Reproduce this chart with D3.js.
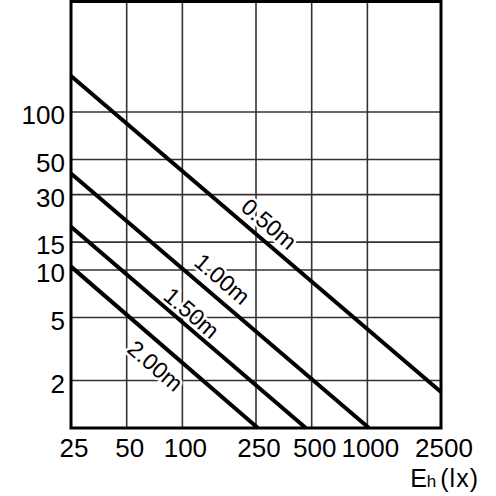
<!DOCTYPE html>
<html>
<head>
<meta charset="utf-8">
<script src="https://cdn.jsdelivr.net/npm/d3@7"></script>
<style>
  html, body { margin: 0; padding: 0; background: #fff; }
  svg { display: block; font-family: "Liberation Sans", Arial, sans-serif; }
</style>
</head>
<body>
<svg id="vis" width="496" height="496"></svg>
<script>
// tick values
var xTicks = [25, 50, 100, 250, 500, 1000, 2500];
var yTicks = [2, 5, 10, 15, 30, 50, 100];

// mounting heights (curve names)
var heights = ['0.50m', '1.00m', '1.50m', '2.00m'];

// end points of each line [Eh, value]
var line050 = [[25, 169], [2500, 1.69]];
var line100 = [[25, 40.8], [1020, 1]];
var line150 = [[25, 18.8], [465, 1]];
var line200 = [[25, 10.5], [256, 1]];

var lines = [line050, line100, line150, line200];

// where each label sits along its line (Eh value) and how far off it (px)
var labelAt = [258, 142, 101, 84];
var labelOff = [16, 18, 13, -20];

var width = 496, height = 496;
var svg = d3.select('#vis');

var x = d3.scaleLog().domain([25, 2500]).range([71, 441]);
var y = d3.scaleLog().domain([1, 500]).range([428, 1.5]);

//grid
var grid = svg.append('g').attr('class', 'grid');

grid.selectAll('.vline')
    .data(xTicks.slice(1, -1))
    .enter()
    .append('line')
    .attr('x1', function(d){ return x(d); })
    .attr('x2', function(d){ return x(d); })
    .attr('y1', y.range()[1])
    .attr('y2', y.range()[0])
    .attr('stroke', '#333')
    .attr('stroke-width', 1.6);

grid.selectAll('.hline')
    .data(yTicks)
    .enter()
    .append('line')
    .attr('x1', x.range()[0])
    .attr('x2', x.range()[1])
    .attr('y1', function(d){ return y(d); })
    .attr('y2', function(d){ return y(d); })
    .attr('stroke', '#333')
    .attr('stroke-width', 1.6);

//curves
var lineGen = d3.line()
    .x(function(d){ return x(d[0]); })
    .y(function(d){ return y(d[1]); });

svg.append('g')
    .selectAll('path')
    .data(lines)
    .enter()
    .append('path')
    .attr('d', lineGen)
    .attr('fill', 'none')
    .attr('stroke', '#000')
    .attr('stroke-width', 4);

//labels on the curves, with a white halo that hides the grid behind them
var labels = svg.append('g');
lines.forEach(function(pts, i){
    var x0 = x(pts[0][0]), y0 = y(pts[0][1]);
    var x1 = x(pts[1][0]), y1 = y(pts[1][1]);
    var ang = Math.atan2(y1 - y0, x1 - x0);
    var px = x(labelAt[i]);
    var py = y0 + (px - x0) * (y1 - y0) / (x1 - x0);
    // normal pointing up-right
    var nx = Math.sin(ang), ny = -Math.cos(ang);
    var cx = px + nx * labelOff[i], cy = py + ny * labelOff[i];
    labels.append('text')
        .attr('transform', 'translate(' + cx + ',' + cy + ') rotate(' + (ang * 180 / Math.PI) + ')')
        .attr('text-anchor', 'middle')
        .attr('dy', '0.35em')
        .attr('font-size', 23)
        .attr('fill', '#000')
        .attr('stroke', '#fff')
        .attr('stroke-width', 5)
        .attr('paint-order', 'stroke')
        .text(heights[i]);
});

//frame
svg.append('rect')
    .attr('x', x.range()[0])
    .attr('y', y.range()[1])
    .attr('width', x.range()[1] - x.range()[0])
    .attr('height', y.range()[0] - y.range()[1])
    .attr('fill', 'none')
    .attr('stroke', '#000')
    .attr('stroke-width', 3);

//tick labels
svg.append('g')
    .selectAll('text')
    .data(xTicks)
    .enter()
    .append('text')
    .attr('x', function(d){ return x(d) + 3; })
    .attr('y', 457)
    .attr('text-anchor', 'middle')
    .attr('font-size', 26)
    .text(function(d){ return d; });

svg.append('g')
    .selectAll('text')
    .data(yTicks)
    .enter()
    .append('text')
    .attr('x', 65)
    .attr('y', function(d){ return y(d) + 3; })
    .attr('dy', '0.35em')
    .attr('text-anchor', 'end')
    .attr('font-size', 26)
    .text(function(d){ return d; });

//axis title
var title = svg.append('text')
    .attr('x', 479)
    .attr('y', 487)
    .attr('text-anchor', 'end')
    .attr('font-size', 25);
title.append('tspan').text('E');
title.append('tspan').attr('font-size', 17).text('h');
title.append('tspan').attr('dx', 4).attr('letter-spacing', 1).text('(lx)');
</script>
</body>
</html>
